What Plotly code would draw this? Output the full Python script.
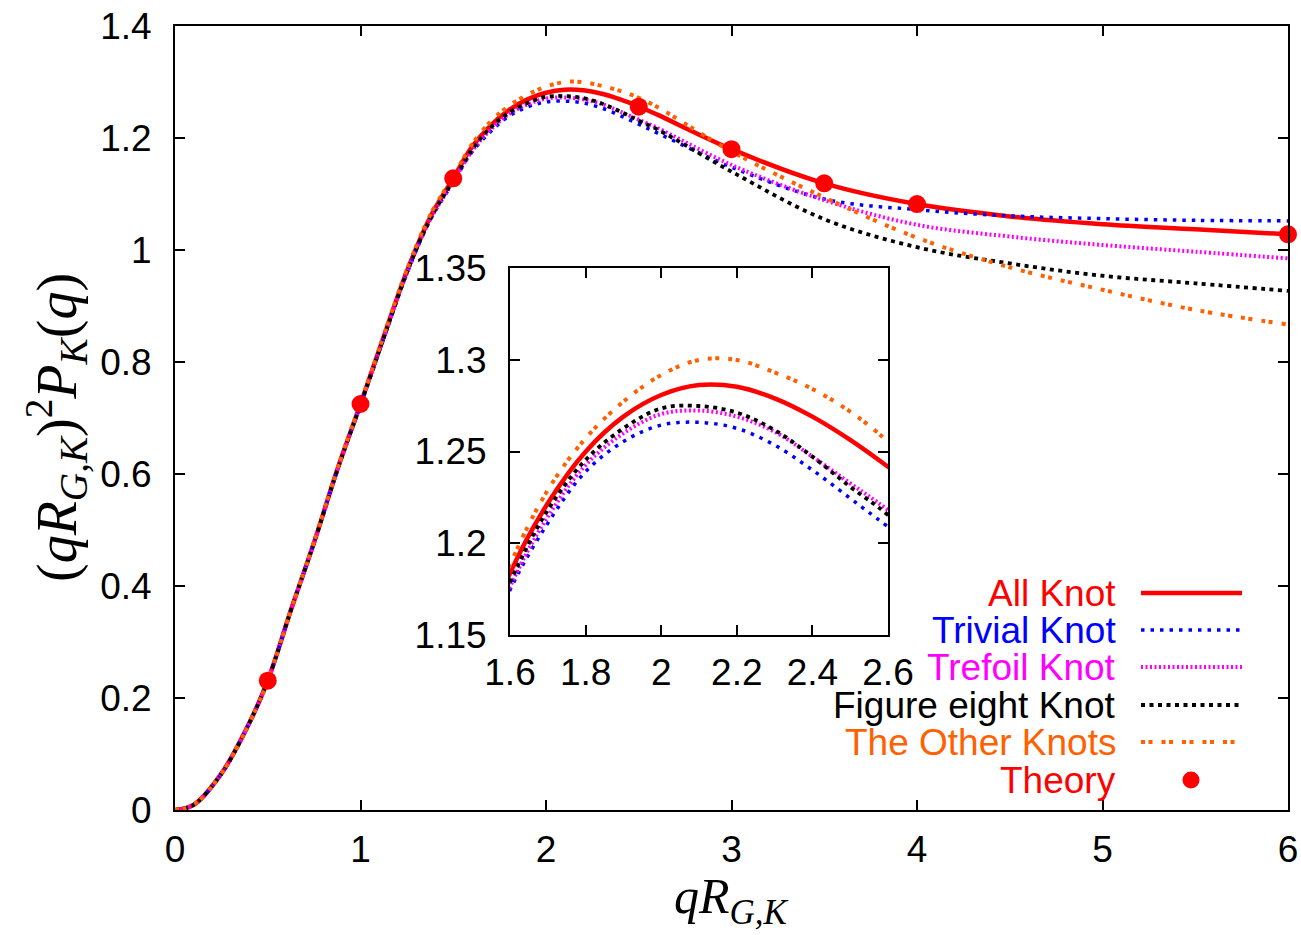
import plotly.graph_objects as go

# ---------------- data ----------------
q = [0, 0.1, 0.25, 0.4, 0.5, 0.625, 0.75, 0.875, 1.0, 1.125, 1.25, 1.375, 1.5,
     1.6, 1.7, 1.8, 1.9, 2.0, 2.1, 2.2, 2.3, 2.4, 2.5, 2.6,
     3.0, 3.5, 4.0, 4.5, 5.0, 5.5, 6.0]

all_knot = [0, 0.009, 0.065, 0.155, 0.231, 0.357, 0.478, 0.608, 0.725, 0.845, 0.962, 1.058, 1.128,
            1.1836, 1.2218, 1.2499, 1.2690, 1.2808, 1.2862, 1.2853, 1.2790, 1.2690, 1.2563, 1.2417,
            1.180, 1.119, 1.082, 1.060, 1.046, 1.037, 1.028]

trivial_knot = [0, 0.009, 0.065, 0.155, 0.231, 0.357, 0.478, 0.607, 0.723, 0.842, 0.958, 1.053, 1.121,
                1.1745, 1.2109, 1.2390, 1.2554, 1.2644, 1.2659, 1.2626, 1.2535, 1.2399, 1.2245, 1.2090,
                1.148, 1.091, 1.072, 1.061, 1.056, 1.053, 1.052]

trefoil_knot = [0, 0.009, 0.065, 0.155, 0.231, 0.357, 0.478, 0.607, 0.723, 0.843, 0.959, 1.054, 1.122,
                1.1763, 1.2145, 1.2426, 1.2599, 1.2704, 1.2723, 1.2690, 1.2608, 1.2472, 1.2327, 1.2181,
                1.152, 1.089, 1.045, 1.024, 1.009, 0.997, 0.985]

figure_eight_knot = [0, 0.009, 0.065, 0.155, 0.231, 0.357, 0.478, 0.607, 0.724, 0.843, 0.960, 1.055, 1.124,
                     1.1785, 1.2181, 1.2454, 1.2626, 1.2735, 1.2748, 1.2712, 1.2617, 1.2472, 1.2308, 1.2154,
                     1.140, 1.055, 1.005, 0.976, 0.954, 0.9405, 0.927]

other_knots = [0, 0.009, 0.065, 0.155, 0.231, 0.357, 0.479, 0.609, 0.726, 0.847, 0.965, 1.062, 1.132,
               1.1881, 1.2290, 1.2572, 1.2772, 1.2917, 1.2999, 1.2999, 1.2931, 1.2841, 1.2717, 1.2554,
               1.176, 1.094, 1.022, 0.969, 0.929, 0.893, 0.867]

theory_q = [0.5, 1.0, 1.5, 2.5, 3.0, 3.5, 4.0, 6.0]
theory_val = [0.231, 0.725, 1.128, 1.256, 1.180, 1.119, 1.082, 1.028]

main_x_ticks = [0, 1, 2, 3, 4, 5, 6]
main_x_text = ["0", "1", "2", "3", "4", "5", "6"]
main_y_ticks = [0, 0.2, 0.4, 0.6, 0.8, 1.0, 1.2, 1.4]
main_y_text = ["0", "0.2", "0.4", "0.6", "0.8", "1", "1.2", "1.4"]
inset_x_ticks = [1.6, 1.8, 2.0, 2.2, 2.4, 2.6]
inset_x_text = ["1.6", "1.8", "2", "2.2", "2.4", "2.6"]
inset_y_ticks = [1.15, 1.2, 1.25, 1.3, 1.35]
inset_y_text = ["1.15", "1.2", "1.25", "1.3", "1.35"]

legend_names = ["All Knot", "Trivial Knot", "Trefoil Knot", "Figure eight Knot", "The Other Knots", "Theory"]

# ---------------- styles ----------------
RED = "#ff0000"
BLUE = "#0000ff"
MAG = "#ff00ff"
BLK = "#000000"
ORG = "#ff6000"

series = [
    (all_knot, RED, "solid", 4.5),
    (trivial_knot, BLUE, "3.5px,6px", 3.5),
    (trefoil_knot, MAG, "2px,2.5px", 4),
    (figure_eight_knot, BLK, "4px,4.5px", 3.8),
    (other_knots, ORG, "4px,3.5px,4px,9px", 4),
]

W, H = 1301, 935
L, R, T, B = 175, 13, 26, 125
PW, PH = W - L - R, H - T - B


def px(xp):
    return (xp - L) / PW


def py(yp):
    return (H - B - yp) / PH


fig = go.Figure()

for xa, ya in (("x", "y"), ("x2", "y2")):
    for vals, col, dash, wd in series:
        fig.add_trace(go.Scatter(x=q, y=vals, mode="lines", xaxis=xa, yaxis=ya,
                                 line=dict(color=col, width=wd, dash=dash, shape="spline"),
                                 showlegend=False, hoverinfo="skip"))

fig.add_trace(go.Scatter(x=theory_q, y=theory_val, mode="markers", xaxis="x", yaxis="y",
                         marker=dict(color=RED, size=18, line=dict(width=0)),
                         showlegend=False, hoverinfo="skip", cliponaxis=False))

SANS = "Liberation Sans, Arial, Helvetica, sans-serif"
SERIF = "Liberation Serif, Times New Roman, serif"

axis_common = dict(showline=True, linecolor="black", linewidth=2, mirror="allticks",
                   ticks="inside", ticklen=10, tickwidth=2, tickcolor="black", automargin=False,
                   showgrid=False, zeroline=False, tickfont=dict(family=SANS, size=37, color="black"))

fig.update_layout(
    width=W, height=H, autosize=False,
    margin=dict(l=L, r=R, t=T, b=B, autoexpand=False),
    paper_bgcolor="white", plot_bgcolor="white",
    xaxis=dict(range=[0, 6], tickmode="array", tickvals=main_x_ticks, ticktext=main_x_text,
               domain=[0, 1], ticklabelstandoff=6, **axis_common),
    yaxis=dict(range=[0, 1.4], tickmode="array", tickvals=main_y_ticks, ticktext=main_y_text,
               domain=[0, 1], ticklabelstandoff=14, **axis_common),
    xaxis2=dict(range=[1.6, 2.6], tickmode="array", tickvals=inset_x_ticks, ticktext=inset_x_text,
                domain=[px(510), px(888)], anchor="y2", ticklabelstandoff=4, **axis_common),
    yaxis2=dict(range=[1.15, 1.35], tickmode="array", tickvals=inset_y_ticks, ticktext=inset_y_text,
                domain=[py(635), py(268)], anchor="x2", ticklabelstandoff=14, **axis_common),
    showlegend=False,
)

# inset background
fig.add_shape(type="rect", xref="paper", yref="paper", x0=px(510), x1=px(888), y0=py(635), y1=py(268),
              fillcolor="white", line=dict(width=0), layer="below")

# axis titles
fig.add_annotation(xref="paper", yref="paper", x=0.5, y=py(900), xanchor="center", yanchor="middle",
                   text="<i>qR</i><sub><i>G,K</i></sub>", showarrow=False,
                   font=dict(family=SERIF, size=50, color="black"))
fig.add_annotation(xref="paper", yref="paper", x=px(56), y=py(428), xanchor="center", yanchor="middle",
                   textangle=-90,
                   text="(<i>qR</i><sub><i>G,K</i></sub>)<sup>2</sup><i>P</i><sub><i>K</i></sub>(<i>q</i>)",
                   showarrow=False, font=dict(family=SERIF, size=56, color="black"))

# legend (gnuplot style: text right-aligned, sample to the right)
rows = [593, 630, 667, 705, 742, 780]
legend_cols = [RED, BLUE, MAG, BLK, ORG, RED]
for i, name in enumerate(legend_names):
    fig.add_annotation(xref="paper", yref="paper", x=px(1118), y=py(rows[i]), xanchor="right",
                       yanchor="middle", text=name, showarrow=False,
                       font=dict(family=SANS, size=37, color=legend_cols[i]))
for i, (vals, col, dash, wd) in enumerate(series):
    fig.add_shape(type="line", xref="paper", yref="paper", x0=px(1141), x1=px(1242),
                  y0=py(rows[i]), y1=py(rows[i]), line=dict(color=col, width=wd, dash=dash))
fig.add_shape(type="circle", xref="paper", yref="paper", xsizemode="pixel", ysizemode="pixel",
              xanchor=px(1191), yanchor=py(rows[5]), x0=-8.5, x1=8.5, y0=-8.5, y1=8.5,
              fillcolor=RED, line=dict(width=0))

fig.write_html("out.html", config={"displayModeBar": False},
               post_script="document.body.style.margin='0px';document.body.style.overflow='hidden';")
